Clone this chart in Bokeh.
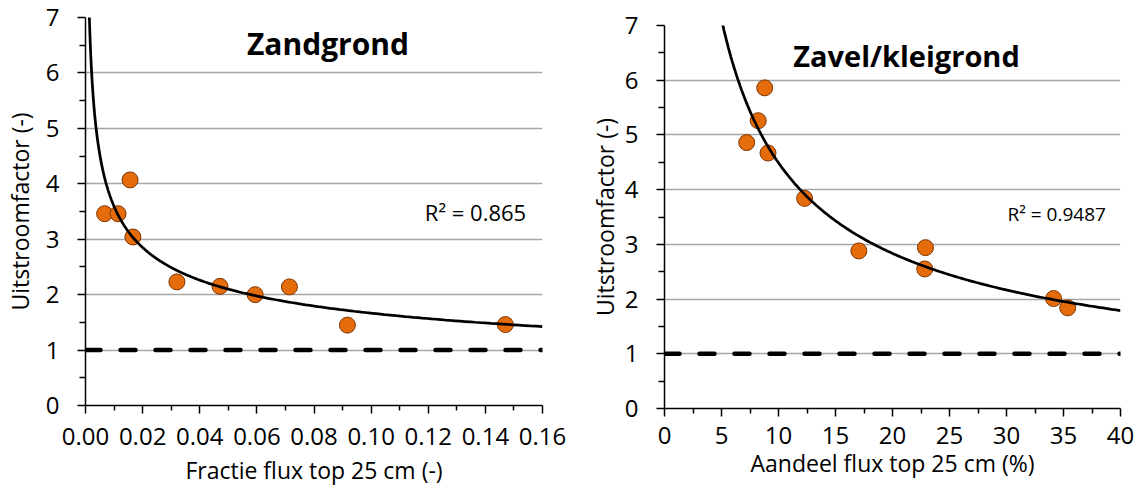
import numpy as np
from bokeh.plotting import figure
from bokeh.models import Range1d, FixedTicker, Label, PrintfTickFormatter
from bokeh.layouts import row, column
from bokeh.embed import file_html
from bokeh.resources import INLINE

# ---------------- data ----------------
sand_x = [0.0067, 0.0114, 0.0156, 0.0166, 0.0320, 0.0471, 0.0594, 0.0714, 0.0917, 0.1470]
sand_y = [3.46, 3.46, 4.07, 3.04, 2.23, 2.15, 2.00, 2.14, 1.45, 1.46]
clay_x = [7.21, 8.22, 8.79, 9.08, 12.29, 17.05, 22.89, 22.83, 34.13, 35.37]
clay_y = [4.86, 5.26, 5.86, 4.67, 3.84, 2.88, 2.94, 2.55, 2.01, 1.84]

sand_title = "Zandgrond"
clay_title = "Zavel/kleigrond"
sand_r2 = "R² = 0.865"
clay_r2 = "R² = 0.9487"
sand_xlabel = "Fractie flux top 25 cm (-)"
clay_xlabel = "Aandeel flux top 25 cm (%)"
ylabel = "Uitstroomfactor (-)"

sand_xticks = [0.00, 0.02, 0.04, 0.06, 0.08, 0.10, 0.12, 0.14, 0.16]
sand_xminor = [0.01, 0.03, 0.05, 0.07, 0.09, 0.11, 0.13, 0.15]
clay_xticks = [0, 5, 10, 15, 20, 25, 30, 35, 40]
clay_xminor = [2.5, 7.5, 12.5, 17.5, 22.5, 27.5, 32.5, 37.5]
yticks = [0, 1, 2, 3, 4, 5, 6, 7]
yminor = [0.5, 1.5, 2.5, 3.5, 4.5, 5.5, 6.5]
reference_level = 1

FONT = "Open Sans"
ORANGE = "#E46C0A"
EDGE = "#7F3505"
GRID = "#A6A6A6"


def power_fit(x, y):
    b, lna = np.polyfit(np.log(x), np.log(y), 1)
    return np.exp(lna), b


def panel(xs, ys, xmax, xticks, xminor, fmt, xlabel, title, tpos, tsize, r2, rpos, r2size,
          width, height, mbl, mbr, mbt, mbb, xstand, xlstand, ylstand, curve_x0):
    p = figure(width=width, height=height, x_range=Range1d(0, xmax), y_range=Range1d(0, 7),
               output_backend="svg", toolbar_location=None,
               min_border_left=mbl, min_border_right=mbr,
               min_border_top=mbt, min_border_bottom=mbb)
    p.outline_line_color = None
    p.xgrid.visible = False
    p.ygrid.grid_line_color = GRID
    p.ygrid.grid_line_width = 1.3

    p.xaxis.ticker = FixedTicker(ticks=xticks, minor_ticks=xminor)
    p.yaxis.ticker = FixedTicker(ticks=yticks, minor_ticks=yminor)
    if fmt:
        p.xaxis.formatter = PrintfTickFormatter(format=fmt)
    for ax in (p.xaxis, p.yaxis):
        ax.axis_line_color = "black"
        ax.axis_line_width = 1.5
        ax.major_tick_line_color = "black"
        ax.minor_tick_line_color = "black"
        ax.major_tick_line_width = 1.5
        ax.minor_tick_line_width = 1.5
        ax.major_tick_in = 0
        ax.minor_tick_in = 0
        ax.major_tick_out = 8
        ax.minor_tick_out = 5
        ax.major_label_text_font = FONT
        ax.major_label_text_font_size = "24px"
        ax.major_label_text_color = "black"
        ax.axis_label_text_font = FONT
        ax.axis_label_text_font_size = "23px"
        ax.axis_label_text_font_style = "normal"
        ax.axis_label_text_color = "black"
    p.yaxis.minor_tick_out = 6
    p.xaxis.axis_label = xlabel
    p.yaxis.axis_label = ylabel
    p.xaxis.major_label_standoff = xstand
    p.xaxis.axis_label_standoff = xlstand
    p.yaxis.major_label_standoff = 18
    p.yaxis.axis_label_standoff = ylstand

    # reference line y = 1
    p.line([0, xmax], [reference_level, reference_level], line_color="black",
           line_width=4.5, line_dash="15 20", line_cap="round")

    p.scatter(xs, ys, size=16, fill_color=ORANGE, line_color=EDGE, line_width=1)

    a, b = power_fit(xs, ys)
    cx = np.geomspace(curve_x0, xmax, 400)
    p.line(cx, a * cx ** b, line_color="black", line_width=2.75)

    p.add_layout(Label(x=tpos[0], y=tpos[1], text=title, text_font=FONT,
                       text_font_size=tsize, text_font_style="bold",
                       text_align="center", text_baseline="alphabetic",
                       text_color="black"))
    p.add_layout(Label(x=rpos[0], y=rpos[1], text=r2, text_font=FONT,
                       text_font_size=r2size, text_align="left",
                       text_baseline="alphabetic", text_color="black"))
    return p


p1 = panel(sand_x, sand_y, 0.16, sand_xticks, sand_xminor, "%.2f", sand_xlabel,
           sand_title, (0.0849, 6.532), "30px", sand_r2, (0.1188, 3.486), "22px",
           width=572, height=488, mbl=84, mbr=30, mbt=17, mbb=82,
           xstand=14, xlstand=6, ylstand=7, curve_x0=0.0008)
p2 = panel(clay_x, clay_y, 40, clay_xticks, clay_xminor, None, clay_xlabel,
           clay_title, (21.23, 6.452), "29px", clay_r2, (30.09, 3.559), "19px",
           width=565, height=488, mbl=92, mbr=17, mbt=25, mbb=80,
           xstand=10, xlstand=0, ylstand=1, curve_x0=3.0)

layout = row(column(p1), column(p2))
open("out.html", "w").write(file_html(layout, INLINE))
